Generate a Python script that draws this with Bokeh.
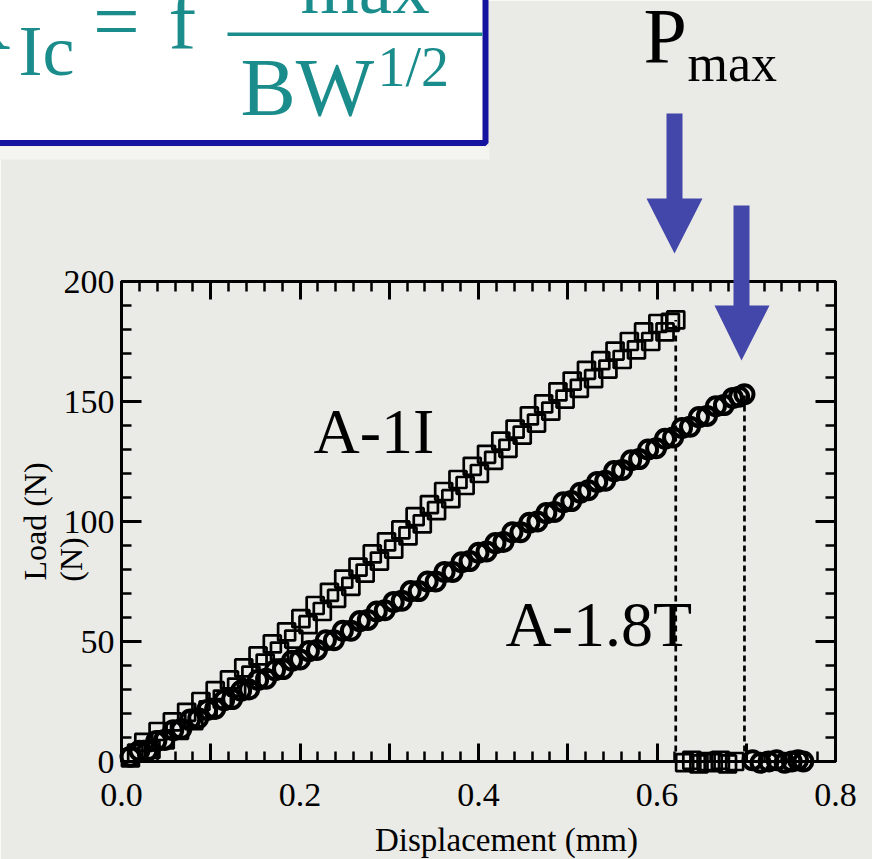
import math
from bokeh.plotting import figure
from bokeh.models import Range1d, LinearAxis, FixedTicker, CustomJSTickFormatter
from bokeh.core.properties import value
from bokeh.embed import file_html
from bokeh.resources import INLINE

# ---------------- data ----------------
# A-1I (squares): loading branch
sq_disp = [0.010, 0.017, 0.025, 0.033, 0.041, 0.049, 0.057, 0.065, 0.073, 0.081,
           0.089, 0.097, 0.105, 0.113, 0.121, 0.129, 0.137, 0.145, 0.153, 0.161,
           0.169, 0.177, 0.185, 0.193, 0.201, 0.209, 0.217, 0.225, 0.233, 0.241,
           0.249, 0.257, 0.265, 0.273, 0.281, 0.289, 0.297, 0.305, 0.313, 0.321,
           0.329, 0.337, 0.345, 0.353, 0.361, 0.369, 0.377, 0.385, 0.393, 0.401,
           0.409, 0.417, 0.425, 0.433, 0.441, 0.449, 0.457, 0.465, 0.473, 0.481,
           0.489, 0.497, 0.505, 0.513, 0.521, 0.529, 0.537, 0.545, 0.553, 0.561,
           0.569, 0.577, 0.585, 0.593, 0.601, 0.609, 0.615, 0.621]
sq_load = [1.5, 3.5, 8.0, 5.0, 12.5, 9.0, 16.5, 13.0, 20.5, 17.0,
           25.0, 21.5, 29.5, 26.0, 34.0, 31.0, 39.0, 36.0, 44.0, 41.0,
           49.0, 46.0, 54.0, 51.0, 59.5, 57.0, 65.0, 62.5, 70.5, 68.0,
           76.0, 73.0, 81.0, 78.5, 86.5, 83.5, 91.5, 88.5, 96.5, 94.0,
           102.0, 99.0, 107.0, 104.5, 112.5, 109.5, 117.5, 115.0, 123.0, 120.0,
           128.0, 125.5, 133.5, 130.5, 138.5, 136.0, 144.0, 141.0, 149.0, 146.0,
           154.0, 151.0, 158.5, 155.5, 163.0, 159.5, 167.0, 163.5, 171.0, 167.5,
           175.0, 171.5, 179.0, 175.0, 182.5, 179.0, 183.0, 184.0]
# A-1I after fracture
sq_drop_disp = [0.631, 0.639, 0.647, 0.655, 0.663, 0.671, 0.679, 0.687]
sq_drop_load = [-0.5, 0.5, -1.0, 0.0, -0.5, 0.5, -1.0, 0.0]

# A-1.8T (circles): loading branch
ci_disp = [0.010, 0.020, 0.029, 0.039, 0.048, 0.058, 0.067, 0.077, 0.086, 0.096,
           0.105, 0.115, 0.124, 0.134, 0.143, 0.153, 0.162, 0.172, 0.181, 0.191,
           0.200, 0.210, 0.219, 0.229, 0.238, 0.248, 0.257, 0.267, 0.276, 0.286,
           0.295, 0.305, 0.314, 0.324, 0.333, 0.343, 0.352, 0.362, 0.371, 0.381,
           0.390, 0.400, 0.409, 0.419, 0.428, 0.438, 0.447, 0.457, 0.466, 0.476,
           0.485, 0.495, 0.504, 0.514, 0.523, 0.533, 0.542, 0.552, 0.561, 0.571,
           0.580, 0.590, 0.599, 0.609, 0.618, 0.628, 0.637, 0.647, 0.656, 0.666,
           0.675, 0.685, 0.692, 0.698]
ci_load = [2.0, 4.5, 4.5, 8.5, 9.0, 13.0, 13.5, 17.5, 18.0, 21.5,
           22.0, 25.5, 26.0, 29.5, 30.0, 34.0, 34.5, 38.0, 38.5, 42.0,
           42.5, 46.0, 46.5, 50.5, 50.5, 54.5, 54.5, 58.5, 59.0, 62.5,
           63.0, 66.5, 67.0, 71.0, 71.0, 75.0, 75.0, 79.0, 79.0, 83.0,
           83.5, 87.0, 87.5, 91.0, 91.5, 95.5, 95.5, 99.5, 100.0, 103.5,
           104.0, 108.0, 108.5, 112.0, 113.0, 116.5, 117.0, 121.0, 121.5, 125.5,
           126.0, 130.0, 130.5, 134.5, 135.0, 139.0, 139.5, 143.5, 144.0, 148.0,
           148.5, 151.5, 152.0, 153.0]
# A-1.8T after fracture
ci_drop_disp = [0.707, 0.716, 0.725, 0.734, 0.743, 0.751, 0.758, 0.764]
ci_drop_load = [0.5, -0.5, 0.0, 0.5, -0.5, 0.0, 0.5, 0.0]

# peak markers (dotted drop lines)
peak_disp = [sq_disp[-1], ci_disp[-1]]
peak_load = [sq_load[-1], ci_load[-1]]

x_major = [0.0, 0.1, 0.2, 0.3, 0.4, 0.5, 0.6, 0.7, 0.8]
x_minor = [round(0.02 * i, 2) for i in range(41)]
y_major = [0, 50, 100, 150, 200]
y_minor = list(range(0, 201, 10))

# ---------------- style / layout ----------------
BG = "#eaeae6"
INK = "black"
TEAL = "#1a8c8c"
NAVY = "#1414a0"
BLUE = "#4347a9"
SERIF = "Liberation Serif"

W, H = 872, 859
FL, FR, FT, FB = 121, 835, 281, 761      # frame edges in page pixels
X0, X1, Y0, Y1 = 0.0, 0.8, 0.0, 200.0
BASE_SHIFT = 0.38                         # text anchor correction (em)

def dx(px):
    return X0 + (px - FL) / (FR - FL) * (X1 - X0)

def dy(py):
    return Y0 + (FB - py) / (FB - FT) * (Y1 - Y0)

p = figure(width=W, height=H, x_range=Range1d(X0, X1), y_range=Range1d(Y0, Y1),
           output_backend="svg", toolbar_location=None,
           min_border_left=FL, min_border_right=W - FR,
           min_border_top=FT, min_border_bottom=H - FB,
           background_fill_color=BG, border_fill_color=BG)
p.grid.visible = False
p.outline_line_color = INK
p.outline_line_width = 3

bottom_ax = p.below[0]
left_ax = p.left[0]
top_ax = LinearAxis()
right_ax = LinearAxis()
p.add_layout(top_ax, "above")
p.add_layout(right_ax, "right")

even_fmt = CustomJSTickFormatter(code="const k = Math.round(tick*10); return (k % 2 == 0) ? tick.toFixed(1) : '';")

for ax in [bottom_ax, top_ax]:
    ax.ticker = FixedTicker(ticks=x_major, minor_ticks=x_minor)
    ax.major_tick_in = 18
for ax in [left_ax, right_ax]:
    ax.ticker = FixedTicker(ticks=y_major, minor_ticks=y_minor)
    ax.major_tick_in = 20
for ax in [bottom_ax, top_ax, left_ax, right_ax]:
    ax.major_tick_out = 0
    ax.minor_tick_in = 10
    ax.minor_tick_out = 0
    ax.axis_line_width = 3
    ax.axis_line_color = INK
    ax.major_tick_line_width = 3
    ax.minor_tick_line_width = 2.5
    ax.major_tick_line_color = INK
    ax.minor_tick_line_color = INK
    ax.major_label_text_font = SERIF
    ax.major_label_text_font_size = "34px"
    ax.major_label_text_color = INK
bottom_ax.formatter = even_fmt
bottom_ax.major_label_standoff = 22
left_ax.major_label_standoff = 7
top_ax.major_label_text_font_size = "0px"
right_ax.major_label_text_font_size = "0px"
top_ax.formatter = CustomJSTickFormatter(code="return '';")
right_ax.formatter = CustomJSTickFormatter(code="return '';")

# ---------------- data marks ----------------
p.segment(x0=peak_disp, y0=[0, 0], x1=peak_disp, y1=peak_load,
          line_color=INK, line_width=2.7, line_dash="6 4")
p.scatter(sq_disp, sq_load, marker="square", size=17, fill_color=None,
          line_color=INK, line_width=2.7, level="overlay")
p.scatter(sq_drop_disp, sq_drop_load, marker="square", size=17, fill_color=None,
          line_color=INK, line_width=2.7, level="overlay")
p.scatter(ci_disp, ci_load, marker="circle", size=18, fill_color=None,
          line_color=INK, line_width=4, level="overlay")
p.scatter(ci_drop_disp, ci_drop_load, marker="circle", size=18, fill_color=None,
          line_color=INK, line_width=4, level="overlay")

# ---------------- decorations (page-pixel positions) ----------------
def txt(text, px, py, size, align="left", color=INK, angle=0.0):
    s = float(size.replace("px", ""))
    if angle == 0.0:
        py = py - BASE_SHIFT * s
    else:
        px = px - BASE_SHIFT * s
    p.text(x=[dx(px)], y=[dy(py)], text=[text], text_font=value(SERIF),
           text_font_size=value(size), text_color=color, text_align=align,
           text_baseline="alphabetic", angle=angle, level="overlay")

def rect(l, r, t, b, fill, line=None, lw=0):
    p.quad(left=[dx(l)], right=[dx(r)], top=[dy(t)], bottom=[dy(b)],
           fill_color=fill, fill_alpha=1.0, line_color=line, line_width=lw,
           level="overlay")

# formula box
rect(-20, 489, 146, 159, "#f4f4f1")
rect(-20, 485, -20, 142.5, "white", NAVY, 6)
rect(227, 482, 32, 35.5, TEAL)
txt("K", 10, 52, "83px", align="right", color=TEAL)
txt("Ic", 18, 78, "72px", color=TEAL)
txt("=", 116, 52, "83px", align="center", color=TEAL)
txt("f", 168, 52, "83px", color=TEAL)
txt("max", 300, 15, "75px", color=TEAL)
txt("BW", 240, 118, "83px", color=TEAL)
txt("1/2", 377, 88, "56px", color=TEAL)

# arrows
for (sl, sr, st, hb, hl, hr, tip, tx) in [(666, 682, 113, 198, 646, 702, 253, 674),
                                          (733, 749, 205, 305, 714, 769, 360, 741)]:
    xs = [sl, sr, sr, hr, tx, hl, sl]
    ys = [st, st, hb, hb, tip, hb, hb]
    p.patch([dx(v) for v in xs], [dy(v) for v in ys], fill_color=BLUE,
            fill_alpha=1.0, line_color=None, level="overlay")

# texts
txt("Displacement (mm)", 506, 852, "33px", align="center")
txt("Load (N)", 47, 521, "32px", align="center", angle=math.pi / 2)
txt("(N)", 83, 559, "32px", align="center", angle=math.pi / 2)
txt("A-1I", 313, 455, "64px")
txt("A-1.8T", 505, 648, "64px")
txt("P", 643, 65, "78px")
txt("max", 687, 83, "52px")

open("out.html", "w").write(file_html(p, INLINE))
